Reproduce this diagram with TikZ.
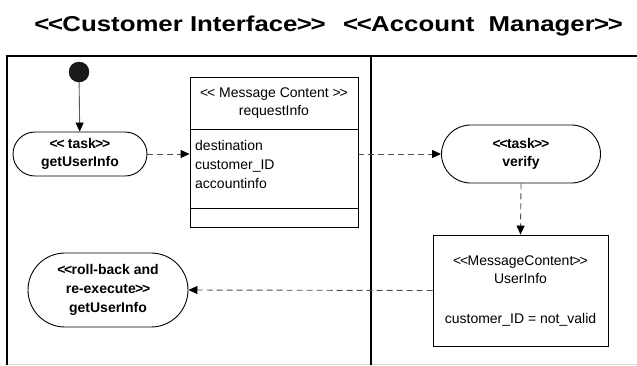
\documentclass[tikz,border=0pt]{standalone}
\usepackage{fontspec}
\setmainfont{Liberation Sans}
\newfontfamily\headfont[FakeStretch=1.2]{Liberation Sans}
\usetikzlibrary{arrows.meta,shapes.misc}

% tight double chevrons, kept apart so no ligature forms
\newcommand\dlt{<\kern-1.2pt<\kern-0.8pt}
\newcommand\dgt{\kern-0.8pt>\kern-1.2pt>}

\begin{document}
\begin{tikzpicture}[x=1pt,y=-1pt,
  lane/.style={line width=2.2pt, line cap=rect},
  heading/.style={font=\headfont\bfseries\fontsize{21.5}{24}\selectfont, anchor=base, inner sep=0pt},
  txt/.style={font=\fontsize{14}{18}\selectfont, align=center, inner sep=0pt},
  task/.style={draw, rounded rectangle, line width=0.9pt, align=center, inner sep=0pt,
               font=\bfseries\fontsize{14}{18}\selectfont},
  msgbox/.style={draw, rectangle, line width=0.9pt, inner sep=0pt},
  flow/.style={draw=black!70, line width=0.9pt, dash pattern=on 6pt off 4pt,
               -{Triangle[length=9pt,width=8pt,color=black]}},
  ctrl/.style={draw=black!65, line width=0.9pt,
               -{Triangle[length=9pt,width=8pt,color=black]}}
]
\useasboundingbox (0,0) rectangle (637,365);

% swimlane titles
\node[heading] (laneA) at (180,31) {\dlt Customer Interface\dgt};
\node[heading] (laneB) at (483,31) {\dlt Account\ \ Manager\dgt};

% swimlane frame
\draw[black!15, line width=1pt] (7,364) -- (637,364);
\draw[lane] (7,364) -- (7,56) -- (640,56);
\draw[lane] (371,56) -- (371,364);

% initial state
\node[circle, fill=black!90, draw=black, minimum size=20pt, inner sep=0pt] (start) at (79,72) {};

% tasks
\node[task, minimum width=134pt, minimum height=44pt] (get) at (80,154)
  {\dlt\ task\dgt\\getUserInfo};
\node[task, minimum width=159pt, minimum height=58pt] (verify) at (521,154)
  {\dlt task\dgt\\verify};
\node[task, minimum width=160pt, minimum height=74pt, font=\bfseries\fontsize{14}{19}\selectfont] (retry) at (108,290)
  {\dlt roll-back and\\re-execute\dgt\\getUserInfo};

% message content: requestInfo
\node[msgbox, minimum width=168pt, minimum height=150pt] (req) at (274,152) {};
\draw[line width=0.9pt] (req.west |- 0,129) -- (req.east |- 0,129);
\draw[line width=0.9pt] (req.west |- 0,208) -- (req.east |- 0,208);
\node[txt] (reqhead) at (274,103.5) {<\kern-1.2pt< Message Content >\kern-1.2pt>\\requestInfo};
\node[txt, align=left, anchor=west, font=\fontsize{14}{19}\selectfont] (reqattr) at (195,164)
  {destination\\customer\_ID\\accountinfo};

% message content: UserInfo
\node[msgbox, minimum width=175pt, minimum height=111pt, txt] (user) at (520.5,290.5)
  {\dlt MessageContent\dgt\\UserInfo\\[22pt]customer\_ID = not\_valid};

% flows
\draw[ctrl] (start) -- (get);
\draw[flow] (get.east) -- (req.west |- get.east);
\draw[flow] (req.east |- verify.west) -- (verify.west);
\draw[flow] (verify.south) -- (user.north);
\draw[flow] (user.west) -- (retry.east);
\end{tikzpicture}
\end{document}
